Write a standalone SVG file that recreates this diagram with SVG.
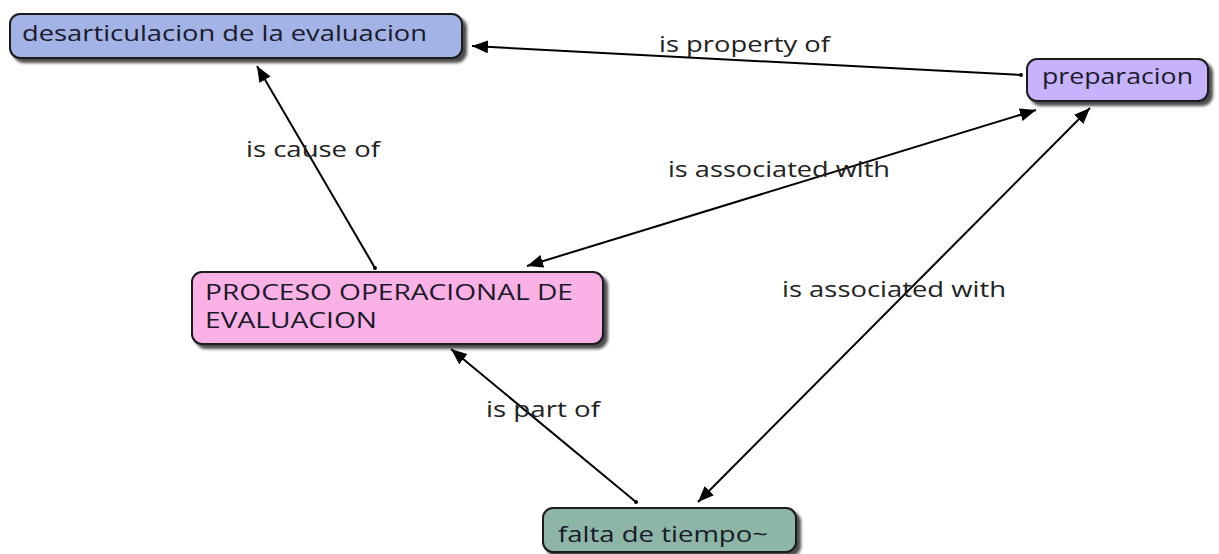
<svg xmlns="http://www.w3.org/2000/svg" width="1219" height="554" viewBox="0 0 1219 554">
  <defs>
    <filter id="shadow" x="-10%" y="-20%" width="120%" height="150%">
      <feGaussianBlur in="SourceAlpha" stdDeviation="1.5"/>
      <feOffset dx="4" dy="4" result="off"/>
      <feComponentTransfer><feFuncA type="linear" slope="0.7"/></feComponentTransfer>
      <feMerge><feMergeNode/><feMergeNode in="SourceGraphic"/></feMerge>
    </filter>
    <marker id="arrow" viewBox="0 0 16 13" refX="16" refY="6.5" markerWidth="16" markerHeight="13" markerUnits="userSpaceOnUse" orient="auto-start-reverse">
      <path d="M0,0 L16,6.5 L0,13 z" fill="#000"/>
    </marker>
    <marker id="dot" viewBox="0 0 4 4" refX="2" refY="2" markerWidth="4" markerHeight="4" markerUnits="userSpaceOnUse">
      <circle cx="2" cy="2" r="2" fill="#000"/>
    </marker>
  </defs>
  <style>
    .node rect { stroke: #1a1a1a; stroke-width: 2; filter: url(#shadow); }
    .node text { font-family: "Open Sans", "Liberation Sans", sans-serif; font-size: 22px; fill: #1a1a2a; }
    .edge { stroke: #000; stroke-width: 2; fill: none; }
    .label { font-family: "Open Sans", "Liberation Sans", sans-serif; font-size: 22px; fill: #222; }
  </style>
  <rect width="1219" height="554" fill="#fff"/>

  <g id="connectors">
    <line class="edge" x1="1021" y1="75" x2="472" y2="46" marker-start="url(#dot)" marker-end="url(#arrow)"/>
    <line class="edge" x1="375" y1="268" x2="257" y2="66" marker-start="url(#dot)" marker-end="url(#arrow)"/>
    <line class="edge" x1="527" y1="266" x2="1036" y2="110" marker-start="url(#arrow)" marker-end="url(#arrow)"/>
    <line class="edge" x1="698" y1="502" x2="1090" y2="108" marker-start="url(#arrow)" marker-end="url(#arrow)"/>
    <line class="edge" x1="636" y1="502" x2="451" y2="349" marker-start="url(#dot)" marker-end="url(#arrow)"/>
    <text class="label" x="659" y="52" textLength="171" lengthAdjust="spacingAndGlyphs">is property of</text>
    <text class="label" x="246" y="157" textLength="134" lengthAdjust="spacingAndGlyphs">is cause of</text>
    <text class="label" x="668" y="177" textLength="222" lengthAdjust="spacingAndGlyphs">is associated with</text>
    <text class="label" x="782" y="297" textLength="224" lengthAdjust="spacingAndGlyphs">is associated with</text>
    <text class="label" x="486" y="417" textLength="114" lengthAdjust="spacingAndGlyphs">is part of</text>
  </g>

  <g id="node-desarticulacion" class="node">
    <rect x="10" y="14" width="452" height="44" rx="10" fill="#a3b3e6"/>
    <text x="22" y="41" textLength="405" lengthAdjust="spacingAndGlyphs">desarticulacion de la evaluacion</text>
  </g>
  <g id="node-preparacion" class="node">
    <rect x="1027" y="59" width="181" height="42" rx="10" fill="#c6b3fb"/>
    <text x="1042" y="84" textLength="151" lengthAdjust="spacingAndGlyphs">preparacion</text>
  </g>
  <g id="node-proceso" class="node">
    <rect x="192" y="272" width="411" height="72" rx="10" fill="#f9b1e6"/>
    <text x="205" y="300" textLength="368" lengthAdjust="spacingAndGlyphs">PROCESO OPERACIONAL DE</text>
    <text x="205" y="328" textLength="172" lengthAdjust="spacingAndGlyphs">EVALUACION</text>
  </g>
  <g id="node-falta" class="node">
    <rect x="543" y="508" width="253" height="44" rx="10" fill="#8db6a7"/>
    <text x="558" y="542" textLength="210" lengthAdjust="spacingAndGlyphs">falta de tiempo~</text>
  </g>
</svg>
